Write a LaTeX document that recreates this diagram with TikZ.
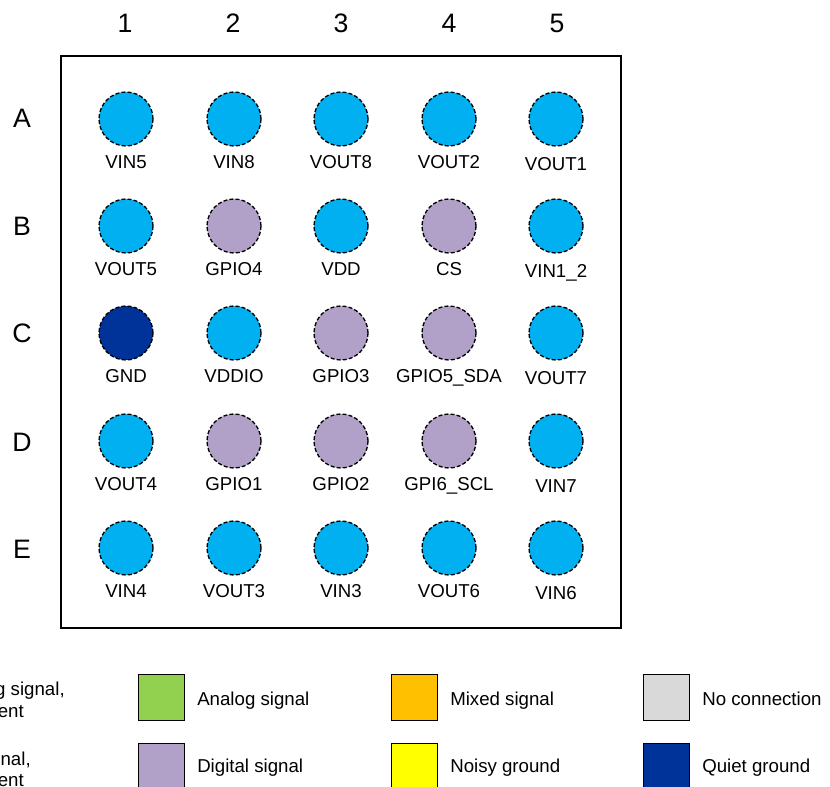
\documentclass[tikz,border=0pt]{standalone}
\usepackage{fontspec}
\setmainfont{Liberation Sans}
\definecolor{pwrc}{HTML}{00B0F0}
\definecolor{digc}{HTML}{B1A0C7}
\definecolor{qgnd}{HTML}{003399}
\definecolor{anac}{HTML}{92D050}
\definecolor{mixc}{HTML}{FFC000}
\definecolor{ngnd}{HTML}{FFFF00}
\definecolor{ncc}{HTML}{D9D9D9}
\begin{document}
\begin{tikzpicture}[x=0.75pt,y=-0.75pt,
  ball/.style={circle, draw=black, dash pattern=on 3pt off 1.6pt, line width=1pt, minimum size=40.5pt, inner sep=0pt},
  pinlbl/.style={anchor=base, font=\fontsize{14}{16}\selectfont, inner sep=0pt},
  hdr/.style={anchor=base, font=\fontsize{20}{24}\selectfont, inner sep=0pt},
  legbox/.style={draw=black, line width=1.1pt, minimum size=34.5pt, inner sep=0pt, anchor=north west},
  legtxt/.style={anchor=base west, font=\fontsize{14}{16}\selectfont, inner sep=0pt},
  legcut/.style={anchor=base east, font=\fontsize{14}{16}\selectfont, inner sep=0pt},
  frame/.style={draw=black, line width=2.2pt}]
\useasboundingbox (0,0) rectangle (830,787);
\clip (0,0) rectangle (830,787);
% outline
\draw[frame] (61,56) rectangle (621,628);
% column headers
\foreach \n/\x in {1/125,2/233,3/341,4/449,5/557}
  \node[hdr] (col\n) at (\x,33) {\n};
% row headers
\foreach \r/\y in {A/128,B/236,C/343,D/451,E/558}
  \node[hdr] (row\r) at (22,\y) {\r};
% balls
\foreach \id/\x/\y/\dy/\txt/\clr in {
  A1/126/119/49.5/VIN5/pwrc, A2/234/119/49.5/VIN8/pwrc, A3/341/119/49.5/VOUT8/pwrc, A4/449/119/49.5/VOUT2/pwrc, A5/556/119/51.5/VOUT1/pwrc,
  B1/126/226/49.5/VOUT5/pwrc, B2/234/226/49.5/GPIO4/digc, B3/341/226/49.5/VDD/pwrc, B4/449/226/49.5/CS/digc, B5/556/226/51.5/VIN1\_2/pwrc,
  C1/126/333/49.5/GND/qgnd, C2/234/333/49.5/VDDIO/pwrc, C3/341/333/49.5/GPIO3/digc, C4/449/333/49.5/GPIO5\_SDA/digc, C5/556/333/51.5/VOUT7/pwrc,
  D1/126/441/49.5/VOUT4/pwrc, D2/234/441/49.5/GPIO1/digc, D3/341/441/49.5/GPIO2/digc, D4/449/441/49.5/GPI6\_SCL/digc, D5/556/441/51.5/VIN7/pwrc,
  E1/126/548/49.5/VIN4/pwrc, E2/234/548/49.5/VOUT3/pwrc, E3/341/548/49.5/VIN3/pwrc, E4/449/548/49.5/VOUT6/pwrc, E5/556/548/51.5/VIN6/pwrc}
{
  \node[ball, fill=\clr] (b\id) at (\x,\y) {};
  \node[pinlbl] (l\id) at (\x,\y+\dy) {\txt};
}
% legend (left column is cut by the page edge)
\node[legbox, fill=pwrc] (lgA) at (-115,674) {};
\node[legbox, fill=pwrc] (lgB) at (-115,743) {};
\node[legcut] (lgAt1) at (65,695) {Analog signal,};
\node[legcut] (lgAt2) at (24,717) {high current};
\node[legcut] (lgBt1) at (31,765) {Power signal,};
\node[legcut] (lgBt2) at (24,786) {high current};
\node[legbox, fill=anac] (lg1) at (138,674) {};
\node[legtxt] (lg1t) at (197,705) {Analog signal};
\node[legbox, fill=mixc] (lg2) at (391,674) {};
\node[legtxt] (lg2t) at (450,705) {Mixed signal};
\node[legbox, fill=ncc] (lg3) at (643,674) {};
\node[legtxt] (lg3t) at (702,705) {No connection};
\node[legbox, fill=digc] (lg4) at (138,743) {};
\node[legtxt] (lg4t) at (197,772) {Digital signal};
\node[legbox, fill=ngnd] (lg5) at (391,743) {};
\node[legtxt] (lg5t) at (450,772) {Noisy ground};
\node[legbox, fill=qgnd] (lg6) at (643,743) {};
\node[legtxt] (lg6t) at (702,772) {Quiet ground};
\end{tikzpicture}
\end{document}
